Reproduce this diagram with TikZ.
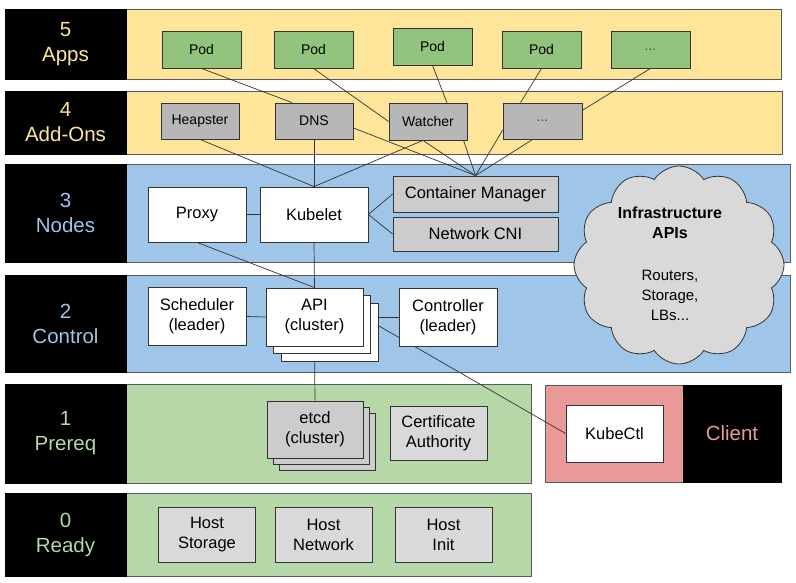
\documentclass[tikz,border=0pt]{standalone}
\usepackage{fontspec}
\setmainfont{Liberation Sans}
\usetikzlibrary{positioning,shapes.symbols,shadows}

\definecolor{appyellow}{HTML}{FFE599}
\definecolor{nodeblue}{HTML}{9FC5E8}
\definecolor{prereqgreen}{HTML}{B6D7A8}
\definecolor{podgreen}{HTML}{93C47D}
\definecolor{clientpink}{HTML}{EA9999}
\definecolor{addongray}{HTML}{B7B7B7}
\definecolor{partgray}{HTML}{CCCCCC}
\definecolor{hostgray}{HTML}{D9D9D9}
\definecolor{edgegray}{HTML}{333333}

\newcommand{\rowfont}{\fontsize{20.5}{25}\selectfont}
\newcommand{\partfont}{\fontsize{16.5}{20}\selectfont}
\newcommand{\podfont}{\fontsize{14}{17}\selectfont}
\newcommand{\cloudfont}{\fontsize{15}{20}\selectfont}

\pgfdeclarelayer{bandlayer}
\pgfdeclarelayer{linklayer}
\pgfsetlayers{bandlayer,linklayer,main}

\tikzset{
  band/.style={draw=black!65, line width=0.8pt},
  rowlabel/.style={fill=black, draw=black, minimum width=121pt, inner sep=0pt, align=center, font=\rowfont},
  part/.style={draw=edgegray, fill=white, line width=0.8pt, inner sep=0pt, minimum width=97pt, minimum height=57pt, align=center, font=\partfont},
  pod/.style={part, fill=podgreen, minimum width=79pt, minimum height=37pt, font=\podfont},
  addon/.style={part, fill=addongray, minimum width=78pt, minimum height=36pt, font=\podfont},
  link/.style={draw=edgegray, line width=0.7pt},
}

\begin{document}
\begin{tikzpicture}[x=1pt,y=-1pt]
  \useasboundingbox (0,0) rectangle (796,582);

  % Drawing bands
  \begin{pgfonlayer}{bandlayer}
    \draw[band, fill=appyellow] (126,9) rectangle (781,79);
    \draw[band, fill=appyellow] (126,91) rectangle (782,154);
    \draw[band, fill=nodeblue] (126,164) rectangle (790,262);
    \draw[band, fill=nodeblue] (126,275) rectangle (790,372);
    \draw[band, fill=prereqgreen] (126,384) rectangle (531,483);
    \draw[band, fill=prereqgreen] (126,493) rectangle (531,576);
    \draw[band, fill=clientpink] (545,385) rectangle (683,482);
  \end{pgfonlayer}

  % Marking row labels
  \node[rowlabel, minimum height=70pt, text=appyellow] (l5) at (65.5,44) {5\\Apps};
  \node[rowlabel, minimum height=63pt, text=appyellow] (l4) at (65.5,122.5) {4\\Add-Ons};
  \node[rowlabel, minimum height=98pt, text=nodeblue] (l3) at (65.5,213) {3\\Nodes};
  \node[rowlabel, minimum height=97pt, text=nodeblue] (l2) at (65.5,323.5) {2\\Control};
  \node[rowlabel, minimum height=99pt, text=prereqgreen] (l1) at (65.5,433.5) {1\\Prereq};
  \node[rowlabel, minimum height=83pt, text=prereqgreen] (l0) at (65.5,534.5) {0\\Ready};
  \node[rowlabel, minimum width=98pt, minimum height=97pt, text=clientpink] (client) at (732,433.5) {Client};

  % Drawing apps
  \node[pod] (pod1) at (201.5,49.5) {Pod};
  \node[pod] (pod2) at (313.5,49.5) {Pod};
  \node[pod] (pod3) at (432.5,46.5) {Pod};
  \node[pod] (pod4) at (541.5,49.5) {Pod};
  \node[pod, text=black!70] (pod5) at (650.5,49.5) {...};

  % Drawing add-ons
  \node[addon] (heapster) at (200,121) {Heapster};
  \node[addon] (dns) at (314,121) {DNS};
  \node[addon, minimum height=37pt] (watcher) at (428,121.5) {Watcher};
  \node[addon, minimum width=79pt, text=black!70] (more) at (542.5,121) {...};

  % Drawing nodes
  \node[part, minimum width=98pt, minimum height=55pt] (proxy) at (197,214.5) {Proxy};
  \node[part, minimum width=108pt, minimum height=55pt] (kubelet) at (314,214.5) {Kubelet};
  \node[part, fill=partgray, minimum width=165pt, minimum height=36pt] (cm) at (475.5,194) {Container Manager};
  \node[part, fill=partgray, minimum width=165pt, minimum height=34pt] (cni) at (475.5,234) {Network CNI};

  % Drawing control
  \node[part, minimum width=98pt, minimum height=58pt] (sched) at (197,316.5) {Scheduler\\(leader)};
  \node[part, minimum height=58pt, double copy shadow={shadow xshift=7.5pt, shadow yshift=-7.5pt}] (api) at (314.5,317) {API\\(cluster)};
  \node[part, minimum width=98pt, minimum height=58pt] (ctrl) at (448,317) {Controller\\(leader)};

  % Drawing prereq and client
  \node[part, fill=partgray, minimum width=96pt, double copy shadow={shadow xshift=6pt, shadow yshift=-6pt}] (etcd) at (315,429.5) {etcd\\(cluster)};
  \node[part, fill=hostgray, minimum height=54pt] (ca) at (438.5,433) {Certificate\\Authority};
  \node[part] (kubectl) at (614.5,433.5) {KubeCtl};

  % Drawing ready
  \node[part, fill=hostgray, minimum height=55pt] (hstorage) at (207,534.5) {Host\\Storage};
  \node[part, fill=hostgray, minimum height=55pt] (hnetwork) at (323.5,534.5) {Host\\Network};
  \node[part, fill=hostgray, minimum height=55pt] (hinit) at (443.5,534.5) {Host\\Init};

  % Drawing cloud
  \node[cloud, cloud puffs=12, cloud puff arc=115, draw=edgegray, fill=hostgray, line width=0.8pt,
        minimum width=210pt, minimum height=198pt, inner sep=0pt] (cloud) at (679,265) {};
  \node[align=center, font=\cloudfont] (infratext) at (670,264)
    {\textbf{\fontsize{16}{20}\selectfont Infrastructure}\\\textbf{\fontsize{16}{20}\selectfont APIs}\\[22pt]Routers,\\Storage,\\LBs...};

  % Drawing links
  \begin{pgfonlayer}{linklayer}
    \draw[link] (pod1.south) -- (dns.140);
    \draw[link] (pod2.south) -- (watcher.west);
    \draw[link] (pod3.south) -- (watcher.45);
    \draw[link] (pod4.south) -- (more.140);
    \draw[link] (pod5.south) -- (more.15);
    \foreach \a in {heapster.south, dns.south, watcher.-105}
      \draw[link] (\a) -- (kubelet.north);
    \foreach \a in {dns.-10, watcher.-105, watcher.-28, more.193, more.-118}
      \draw[link] (\a) -- (cm.north);
    \draw[link] (proxy.east) -- (kubelet.west);
    \draw[link] (kubelet.east) -- (cm.west);
    \draw[link] (kubelet.east) -- (cni.west);
    \draw[link] (proxy.south) -- (api.north);
    \draw[link] (kubelet.south) -- (api.north);
    \draw[link] (api.south) -- (etcd.north);
    \draw[link] (sched.east) -- (api.west);
    \draw[link] (api.east) -- (ctrl.west);
    \draw[link] (api.east) -- (kubectl.west);
  \end{pgfonlayer}
\end{tikzpicture}
\end{document}
